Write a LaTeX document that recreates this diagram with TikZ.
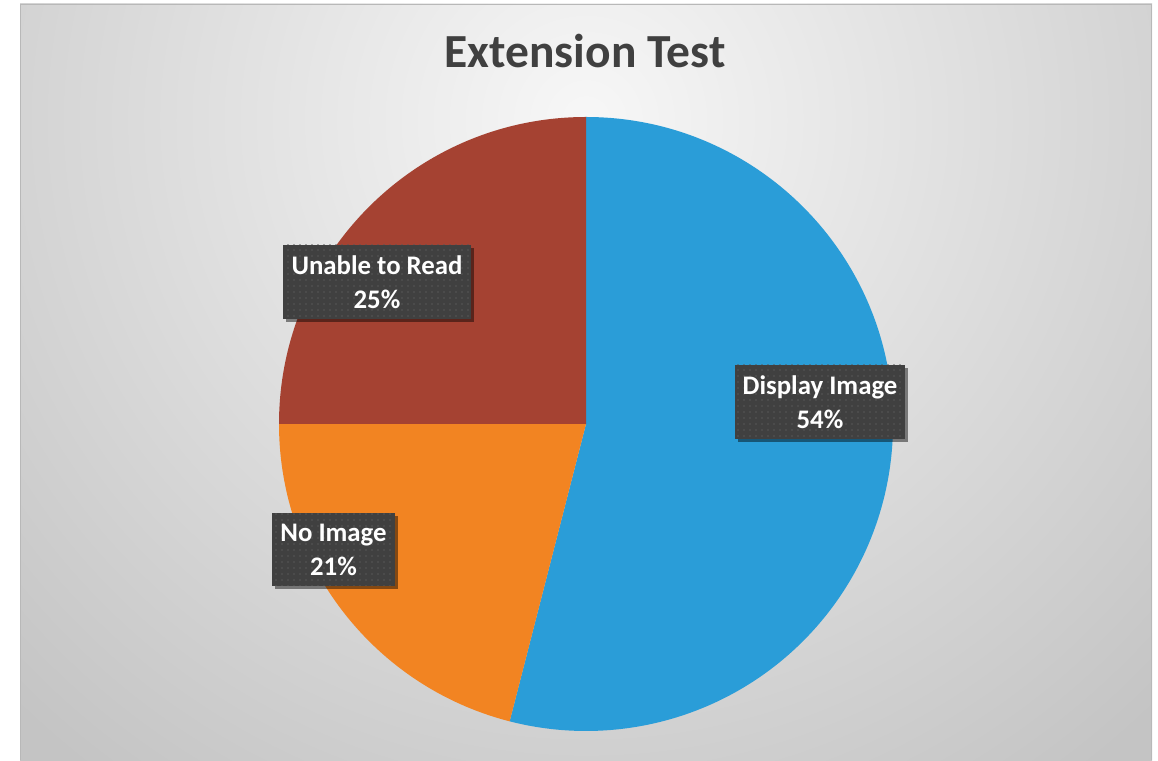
\documentclass[tikz,border=0pt]{standalone}
\usepackage{fontspec}
\setmainfont{Carlito}
\usetikzlibrary{patterns.meta,shadows}
\definecolor{pieblue}{HTML}{2A9DD8}
\definecolor{pieorange}{HTML}{F28422}
\definecolor{piered}{HTML}{A54232}
\definecolor{labelbg}{HTML}{404040}
\definecolor{labeldot}{HTML}{585858}
\definecolor{titlegray}{HTML}{404040}
\definecolor{bginner}{HTML}{F7F7F7}
\definecolor{bgouter}{HTML}{C4C4C4}
\definecolor{framegray}{HTML}{B8B8B8}
\tikzset{
  datalabel/.style={
    preaction={drop shadow={shadow xshift=3pt, shadow yshift=-3pt, opacity=0.45, fill=black}},
    preaction={fill=labelbg},
    pattern={Dots[distance=6pt, radius=0.8pt]}, pattern color=labeldot,
    text=white, align=center, inner sep=0pt,
    font=\bfseries\fontsize{26.8}{34}\selectfont
  },
  charttitle/.style={text=titlegray, font=\bfseries\fontsize{47.5}{54}\selectfont, inner sep=0pt}
}
\begin{document}
\begin{tikzpicture}[x=1pt,y=1pt]
\useasboundingbox (0,0) rectangle (1158,760);
\fill[white] (0,0) rectangle (1158,760);
% chart area with radial gradient
\begin{scope}
  \clip (20,0) rectangle (1152,756);
  \shade[inner color=bginner, outer color=bgouter] (586-820,640-820) rectangle (586+820,640+820);
\end{scope}
\draw[framegray, line width=1.2pt] (20.6,0) -- (20.6,755.4) -- (1151.4,755.4) -- (1151.4,0);
% title
\node[charttitle, anchor=base] (title) at (585,692) {Extension Test};
% pie
\coordinate (c) at (586,336);
\fill[pieblue] (c) -- ++(90:307) arc[start angle=90, end angle=-104.4, radius=307] -- cycle;
\fill[pieorange] (c) -- ++(-104.4:307) arc[start angle=-104.4, end angle=-180, radius=307] -- cycle;
\fill[piered] (c) -- ++(180:307) arc[start angle=180, end angle=90, radius=307] -- cycle;
% data labels
\node[datalabel, minimum width=188, minimum height=74] (lunable) at (377,478) {Unable to Read\\25\%};
\node[datalabel, minimum width=170, minimum height=74] (ldisplay) at (820,358) {Display Image\\54\%};
\node[datalabel, minimum width=123, minimum height=73] (lnoimage) at (333.5,210.5) {No Image\\21\%};
\end{tikzpicture}
\end{document}
